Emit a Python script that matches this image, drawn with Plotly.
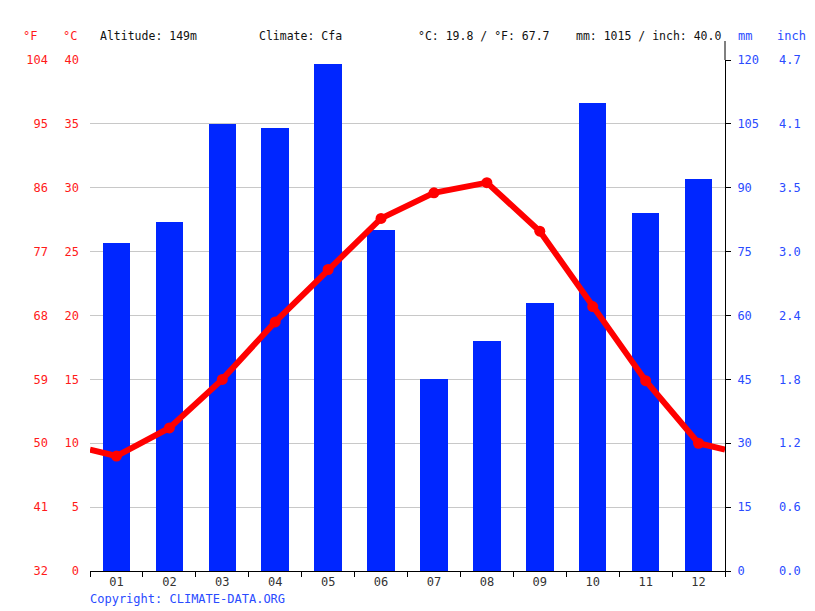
import plotly.graph_objects as go

months = ["01", "02", "03", "04", "05", "06", "07", "08", "09", "10", "11", "12"]
precip_mm = [77, 82, 105, 104, 119, 80, 45, 54, 63, 110, 84, 92]
temp_c = [9.0, 11.2, 15.0, 19.5, 23.6, 27.6, 29.6, 30.4, 26.6, 20.7, 14.9, 10.0]
edge_temp_c = [9.5, 9.5]  # line continuation at left / right plot edges

c_ticks = [0, 5, 10, 15, 20, 25, 30, 35, 40]
f_ticks = ["32", "41", "50", "59", "68", "77", "86", "95", "104"]
mm_ticks = [0, 15, 30, 45, 60, 75, 90, 105, 120]
inch_ticks = ["0.0", "0.6", "1.2", "1.8", "2.4", "3.0", "3.5", "4.1", "4.7"]

RED = "#ff1a1a"
BLUE = "#0026ff"
LBLUE = "#2a4bff"
FONT = "DejaVu Sans Mono"

xpos = list(range(1, 13))

fig = go.Figure()
# bars on primary (mm) axis, drawn underneath
fig.add_trace(go.Bar(x=xpos, y=precip_mm, marker_color=BLUE, marker_line_width=0,
                     width=0.52, yaxis="y", showlegend=False, hoverinfo="skip"))
fig.add_trace(go.Scatter(x=[0.5] + xpos + [12.5],
                         y=[edge_temp_c[0]] + temp_c + [edge_temp_c[1]],
                         mode="lines", line=dict(color="#ff0000", width=6),
                         yaxis="y2", showlegend=False, hoverinfo="skip"))
fig.add_trace(go.Scatter(x=xpos, y=temp_c, mode="markers",
                         marker=dict(color="#ff0000", size=11),
                         yaxis="y2", showlegend=False, hoverinfo="skip"))

tickfont_red = dict(family=FONT, size=12, color=RED)
tickfont_blue = dict(family=FONT, size=12, color=LBLUE)

fig.update_layout(
    width=815, height=611,
    margin=dict(l=90, r=90, t=60, b=40, autoexpand=False),
    plot_bgcolor="white", paper_bgcolor="white",
    font=dict(family=FONT, size=12, color="#222222"),
    bargap=0,
    xaxis=dict(range=[0.5, 12.5], tickvals=xpos, ticktext=months, ticks="",
               showgrid=False, zeroline=False, showline=True, linecolor="black",
               linewidth=1, tickfont=dict(family=FONT, size=12, color="#333333"),
               fixedrange=True),
    xaxis2=dict(range=[0.5, 12.5], overlaying="x", anchor="y",
                tickvals=[i + 0.5 for i in range(0, 13)], ticks="outside",
                ticklen=5, tickcolor="black", showticklabels=False,
                showgrid=False, zeroline=False),
    yaxis=dict(range=[0, 120], tickvals=mm_ticks, side="right",
               showgrid=True, gridcolor="#c8c8c8", gridwidth=1, zeroline=False,
               showline=True, linecolor="black", linewidth=1, ticks="outside",
               ticklen=5, tickcolor="black", tickfont=tickfont_blue,
               ticklabelstandoff=4, automargin=False),
    yaxis2=dict(range=[0, 40], tickvals=c_ticks, overlaying="y", side="left",
                anchor="x", ticks="", showgrid=False, zeroline=False,
                showline=False, tickfont=tickfont_red, ticklabelstandoff=10,
                automargin=False),
    yaxis3=dict(range=[0, 40], tickvals=c_ticks, ticktext=f_ticks, overlaying="y",
                anchor="free", position=0, side="left", shift=-32, ticks="",
                showgrid=False, zeroline=False, showline=False,
                tickfont=tickfont_red, ticklabelstandoff=10, automargin=False),
    yaxis4=dict(range=[0, 120], tickvals=mm_ticks, ticktext=inch_ticks,
                overlaying="y", side="right", anchor="free", position=1, shift=41,
                showgrid=False, zeroline=False, showline=False, ticks="",
                tickfont=tickfont_blue, ticklabelstandoff=12, automargin=False),
)

# dummy traces so the extra axes render
fig.add_trace(go.Scatter(x=[None], y=[None], yaxis="y3", xaxis="x", showlegend=False))
fig.add_trace(go.Scatter(x=[None], y=[None], yaxis="y4", xaxis="x", showlegend=False))
fig.add_trace(go.Scatter(x=[None], y=[None], xaxis="x2", yaxis="y", showlegend=False))

hdr = dict(family=FONT, size=11.5, color="#111111")
ann = [
    dict(text="°F", x=0, xshift=-60, xanchor="center", font=dict(family=FONT, size=12, color=RED)),
    dict(text="°C", x=0, xshift=-20, xanchor="center", font=dict(family=FONT, size=12, color=RED)),
    dict(text="mm", x=1, xshift=20, xanchor="center", font=dict(family=FONT, size=12, color=LBLUE)),
    dict(text="inch", x=1, xshift=66, xanchor="center", font=dict(family=FONT, size=12, color=LBLUE)),
    dict(text="Altitude: 149m", x=0, xshift=8, xanchor="left", font=hdr),
    dict(text="Climate: Cfa", x=0, xshift=167, xanchor="left", font=hdr),
    dict(text="°C: 19.8 / °F: 67.7", x=0, xshift=326, xanchor="left", font=hdr),
    dict(text="mm: 1015 / inch: 40.0", x=1, xshift=-2, xanchor="right", font=hdr),
]
for a in ann:
    fig.add_annotation(xref="paper", yref="paper", y=1, yshift=24, yanchor="middle",
                       showarrow=False, **a)

fig.add_annotation(text="Copyright: CLIMATE-DATA.ORG", xref="paper", yref="paper",
                   x=0, y=0, xshift=-2, yshift=-28, xanchor="left", yanchor="middle",
                   showarrow=False, font=dict(family=FONT, size=12, color=LBLUE))

# right axis line extends above plot area
fig.add_shape(type="line", xref="paper", yref="paper", x0=1, x1=1, y0=1,
              y1=1 + 19 / 511, line=dict(color="black", width=1))

fig.write_html("out.html", config={"displayModeBar": False},
               post_script="document.body.style.margin='0';"
                           "document.body.style.overflow='hidden';")
